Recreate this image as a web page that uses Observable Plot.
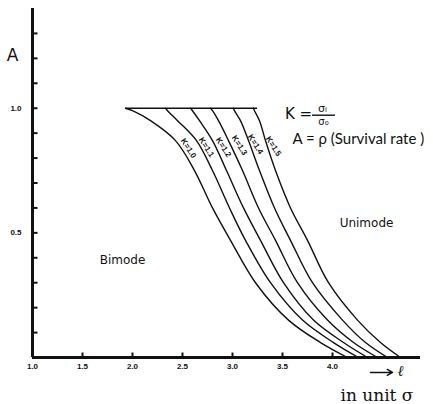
<!DOCTYPE html>
<html><head><meta charset="utf-8">
<script src="https://cdn.jsdelivr.net/npm/d3@7"></script>
<script src="https://cdn.jsdelivr.net/npm/@observablehq/plot@0.6"></script>
<style>html,body{margin:0;padding:0;background:#fff;overflow:hidden}</style>
</head><body><div id="chart"></div>
<script>
// Survival rate levels (A) at which each curve's l-position was read
const aLevels = [1.0, 0.99, 0.95, 0.87, 0.75, 0.60, 0.47, 0.30, 0.15, 0.06, 0];
const kNames = ["K=1.0", "K=1.1", "K=1.2", "K=1.3", "K=1.4", "K=1.5"];
const xK10 = [1.93, 2.00, 2.18, 2.43, 2.62, 2.80, 2.98, 3.23, 3.56, 3.88, 4.15];
const xK11 = [2.33, 2.35, 2.45, 2.64, 2.80, 2.97, 3.13, 3.38, 3.70, 4.01, 4.26];
const xK12 = [2.58, 2.60, 2.67, 2.80, 2.94, 3.11, 3.28, 3.51, 3.81, 4.11, 4.35];
const xK13 = [2.78, 2.80, 2.86, 2.96, 3.10, 3.26, 3.43, 3.65, 3.95, 4.21, 4.45];
const xK14 = [3.01, 3.02, 3.08, 3.16, 3.27, 3.42, 3.58, 3.80, 4.10, 4.33, 4.55];
const xK15 = [3.21, 3.22, 3.27, 3.33, 3.43, 3.58, 3.75, 3.96, 4.25, 4.48, 4.68];
const curveXs = [xK10, xK11, xK12, xK13, xK14, xK15];

// plateau at A = 1
const plateauA = [1.0];
const plateauX = [1.93, 3.25];

// curve label anchors
const labelX = [2.56, 2.74, 2.91, 3.07, 3.23, 3.41];
const labelY = [0.839, 0.843, 0.843, 0.851, 0.855, 0.847];

// axes
const xDomain = [1.0, 4.88];
const yDomain = [0, 1.4];
const xTicks = [1.0, 1.5, 2.0, 2.5, 3.0, 3.5, 4.0];
const xTickMarks = [1.5, 2.0, 2.5, 3.0, 3.5, 4.0];
const yTickMarks = [0.1, 0.2, 0.3, 0.4, 0.5, 0.6, 0.7, 0.8, 0.9, 1.0, 1.1, 1.2, 1.3];
const yTickLabels = [0.5, 1.0];

// annotations
const noteText = ["A", "K =", "σᵢ", "σ₀", "A = ρ (Survival rate )", "Bimode", "Unimode"];
const noteX = [0.80, 3.66, 3.90, 3.91, 3.60, 1.90, 4.34];
const noteY = [1.21, 0.978, 0.997, 0.944, 0.876, 0.39, 0.54];
const noteSize = [17, 15, 11, 10, 15, 12, 12];
const noteAnchor = ["middle", "middle", "middle", "middle", "start", "middle", "middle"];
const fracBar = {x1: 3.80, x2: 4.03, y: 0.972};
const arrowSpec = {x1: 4.38, x2: 4.60, y: -0.06};
const ellSpec = {text: "ℓ", x: 4.68, y: -0.055};
const unitSpec = {text: "in unit σ", x: 4.08, y: -0.153};

const rows = [];
curveXs.forEach((xs, i) => xs.forEach((x, j) => rows.push({k: kNames[i], x, a: aLevels[j]})));
rows.sort((p, q) => p.a - q.a);
const notes = noteText.map((t, i) => ({t, x: noteX[i], y: noteY[i], s: noteSize[i], anchor: noteAnchor[i]}));

const hand = "Lato, 'Noto Sans', sans-serif";

const chart = Plot.plot({
  width: 433, height: 404,
  marginLeft: 32, marginRight: 13, marginTop: 8, marginBottom: 47,
  style: {background: "#fff", color: "#111"},
  x: {domain: xDomain},
  y: {domain: yDomain},
  marks: [
    Plot.ruleX([xDomain[0]], {stroke: "#111", strokeWidth: 3}),
    Plot.ruleY([yDomain[0]], {stroke: "#111", strokeWidth: 3}),
    Plot.ruleY(yTickMarks, {y: d => d, x1: xDomain[0], x2: xDomain[0] + 0.055, stroke: "#111", strokeWidth: 2}),
    Plot.ruleX(xTickMarks, {x: d => d, y1: 0, y2: 0.018, stroke: "#111", strokeWidth: 2}),
    Plot.axisX(xTicks, {tickSize: 0, tickPadding: 6, tickFormat: d => d.toFixed(1), fontSize: 8, fontWeight: "bold", fontFamily: "'Liberation Sans', sans-serif", label: null}),
    Plot.axisY(yTickLabels, {tickSize: 0, tickPadding: 11, tickFormat: d => d.toFixed(1), fontSize: 8, fontWeight: "bold", fontFamily: "'Liberation Sans', sans-serif", label: null}),
    Plot.ruleY(plateauA, {y: d => d, x1: plateauX[0], x2: plateauX[1], stroke: "#111", strokeWidth: 1.6}),
    Plot.line(rows, {x: "x", y: "a", z: "k", curve: "catmull-rom", stroke: "#111", strokeWidth: 1.4}),
    Plot.text(kNames, {x: (d, i) => labelX[i], y: (d, i) => labelY[i], text: d => d, rotate: 58, fontSize: 8, fontWeight: "bold", fontFamily: "'Liberation Sans', sans-serif", fill: "#111"}),
    Plot.text(notes, {x: "x", y: "y", text: "t", fontSize: "s", textAnchor: "start", filter: d => d.anchor === "start", fontFamily: hand, fill: "#111"}),
    Plot.text(notes, {x: "x", y: "y", text: "t", fontSize: "s", filter: d => d.anchor === "middle", fontFamily: "'DejaVu Sans', sans-serif", fill: "#111"}),
    Plot.ruleY([fracBar], {y: "y", x1: "x1", x2: "x2", stroke: "#111", strokeWidth: 1.4}),
    Plot.arrow([arrowSpec], {x1: "x1", x2: "x2", y1: "y", y2: "y", stroke: "#111", strokeWidth: 1.5, headLength: 6}),
    Plot.text([ellSpec], {x: "x", y: "y", text: "text", fontSize: 15, fontStyle: "italic", fontFamily: "'DejaVu Serif', serif", fill: "#111"}),
    Plot.text([unitSpec], {x: "x", y: "y", text: "text", fontSize: 17, textAnchor: "start", fontFamily: "'DejaVu Serif', serif", fill: "#111"})
  ]
});
document.getElementById("chart").appendChild(chart);
</script>
</body></html>
